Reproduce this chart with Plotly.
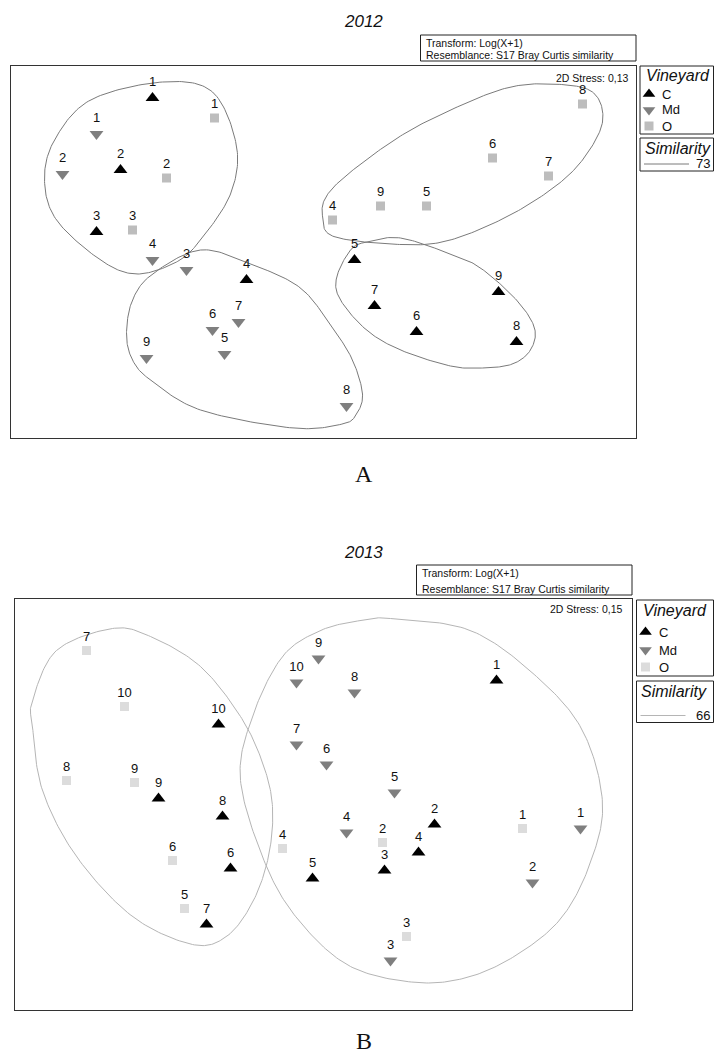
import numpy as np
import plotly.graph_objects as go

W, H = 715, 1055

# ---------------- 2012 : nMDS coordinates (axis 1, axis 2) ----------------
c12_lab = ["1", "2", "3", "4", "5", "6", "7", "8", "9"]
c12_x = [-0.85, -1.01, -1.13, -0.38, 0.16, 0.47, 0.26, 0.97, 0.88]
c12_y = [0.77, 0.41, 0.10, -0.14, -0.04, -0.40, -0.27, -0.45, -0.20]

md12_lab = ["1", "2", "3", "4", "5", "6", "7", "8", "9"]
md12_x = [-1.13, -1.30, -0.68, -0.85, -0.49, -0.55, -0.42, 0.12, -0.88]
md12_y = [0.59, 0.39, -0.09, -0.04, -0.51, -0.39, -0.35, -0.77, -0.53]

o12_lab = ["1", "2", "3", "4", "5", "6", "7", "8", "9"]
o12_x = [-0.54, -0.78, -0.95, 0.05, 0.52, 0.85, 1.13, 1.30, 0.29]
o12_y = [0.67, 0.37, 0.11, 0.16, 0.23, 0.47, 0.38, 0.74, 0.23]

# 73 % similarity contours (outline control points)
sim12_a_x = [-0.80, -0.55, -0.43, -0.46, -0.61, -0.73, -0.93, -1.11, -1.33, -1.39, -1.34, -1.16]
sim12_a_y = [0.85, 0.80, 0.53, 0.29, 0.06, -0.05, -0.11, -0.04, 0.16, 0.36, 0.56, 0.76]
sim12_b_x = [-0.61, -0.85, -0.95, -0.98, -0.95, -0.86, -0.61, -0.15, 0.10, 0.17, 0.20, 0.15, 0.05, -0.11, -0.36]
sim12_b_y = [0.01, -0.11, -0.24, -0.41, -0.54, -0.64, -0.79, -0.88, -0.86, -0.81, -0.71, -0.54, -0.38, -0.18, -0.06]
sim12_c_x = [0.00, 0.05, 0.34, 0.60, 0.89, 1.14, 1.30, 1.40, 1.35, 1.15, 0.92, 0.64, 0.39, 0.14, 0.02]
sim12_c_y = [0.18, 0.08, 0.04, 0.05, 0.16, 0.31, 0.46, 0.65, 0.80, 0.84, 0.82, 0.71, 0.58, 0.40, 0.28]
sim12_d_x = [0.39, 0.64, 0.79, 0.97, 1.06, 1.04, 0.95, 0.80, 0.64, 0.39, 0.22, 0.09, 0.07, 0.14, 0.22]
sim12_d_y = [0.07, -0.01, -0.08, -0.24, -0.38, -0.49, -0.56, -0.58, -0.57, -0.49, -0.39, -0.24, -0.13, 0.01, 0.05]

# ---------------- 2013 : nMDS coordinates ----------------
c13_lab = ["1", "2", "3", "4", "5", "6", "7", "8", "9", "10"]
c13_x = [0.86, 0.55, 0.30, 0.47, -0.06, -0.47, -0.59, -0.51, -0.83, -0.53]
c13_y = [0.62, -0.10, -0.33, -0.24, -0.37, -0.32, -0.60, -0.06, 0.03, 0.40]

md13_lab = ["1", "2", "3", "4", "5", "6", "7", "8", "9", "10"]
md13_x = [1.28, 1.04, 0.33, 0.11, 0.35, 0.01, -0.14, 0.15, -0.03, -0.14]
md13_y = [-0.12, -0.39, -0.78, -0.14, 0.06, 0.20, 0.30, 0.56, 0.73, 0.61]

o13_lab = ["1", "2", "3", "4", "5", "6", "7", "8", "9", "10"]
o13_x = [0.99, 0.29, 0.41, -0.21, -0.70, -0.76, -1.19, -1.29, -0.95, -1.00]
o13_y = [-0.12, -0.19, -0.66, -0.22, -0.52, -0.28, 0.77, 0.12, 0.11, 0.49]

# 66 % similarity contours
sim13_a_x = [-1.06, -1.34, -1.46, -1.46, -1.41, -1.24, -0.96, -0.66, -0.49, -0.36, -0.28, -0.26, -0.31, -0.42, -0.62, -0.87]
sim13_a_y = [0.88, 0.77, 0.52, 0.39, 0.07, -0.26, -0.56, -0.70, -0.66, -0.49, -0.26, -0.01, 0.21, 0.44, 0.69, 0.84]
sim13_b_x = [0.33, 0.73, 1.06, 1.29, 1.39, 1.33, 1.19, 0.98, 0.73, 0.46, 0.13, -0.12, -0.29, -0.42, -0.36, -0.21, -0.02, 0.18]
sim13_b_y = [0.93, 0.87, 0.64, 0.37, 0.01, -0.29, -0.56, -0.74, -0.86, -0.89, -0.81, -0.59, -0.31, 0.12, 0.44, 0.74, 0.87, 0.92]

C_COL = "#000000"
MD_COL = "#7f7f7f"
O12_COL = "#bdbdbd"
O13_COL = "#dcdcdc"
LINE12 = "#7a7a7a"
LINE13 = "#b5b5b5"
FONT = "Liberation Sans, Arial, sans-serif"


def closed_curve(xs, ys, n=24):
    """Smooth closed Catmull-Rom curve through the outline points."""
    p = np.column_stack([xs, ys]).astype(float)
    m = len(p)
    t = np.linspace(0, 1, n, endpoint=False)[:, None]
    segs = []
    for i in range(m):
        p0, p1, p2, p3 = p[(i - 1) % m], p[i], p[(i + 1) % m], p[(i + 2) % m]
        segs.append(0.5 * (2 * p1 + (-p0 + p2) * t
                           + (2 * p0 - 5 * p1 + 4 * p2 - p3) * t ** 2
                           + (-p0 + 3 * p1 - 3 * p2 + p3) * t ** 3))
    segs.append(p[:1])
    c = np.vstack(segs)
    return c[:, 0], c[:, 1]


fig = go.Figure()


def add_points(x, y, labels, symbol, color, size, xa, ya):
    fig.add_trace(go.Scatter(
        x=x, y=y, text=labels, mode="markers+text", textposition="top center",
        marker=dict(symbol=symbol, color=color, size=size, line=dict(width=0)),
        textfont=dict(family=FONT, size=13, color="#111111"),
        xaxis=xa, yaxis=ya, showlegend=False, hoverinfo="skip", cliponaxis=False))


def add_contour(xs, ys, color, xa, ya):
    cx, cy = closed_curve(xs, ys)
    fig.add_trace(go.Scatter(x=cx, y=cy, mode="lines", line=dict(color=color, width=1),
                             xaxis=xa, yaxis=ya, showlegend=False, hoverinfo="skip"))


# 2012 panel
for xs, ys in [(sim12_a_x, sim12_a_y), (sim12_b_x, sim12_b_y),
               (sim12_c_x, sim12_c_y), (sim12_d_x, sim12_d_y)]:
    add_contour(xs, ys, LINE12, "x", "y")
add_points(c12_x, c12_y, c12_lab, "triangle-up", C_COL, 12, "x", "y")
add_points(md12_x, md12_y, md12_lab, "triangle-down", MD_COL, 12, "x", "y")
add_points(o12_x, o12_y, o12_lab, "square", O12_COL, 9, "x", "y")

# 2013 panel
for xs, ys in [(sim13_a_x, sim13_a_y), (sim13_b_x, sim13_b_y)]:
    add_contour(xs, ys, LINE13, "x2", "y2")
add_points(c13_x, c13_y, c13_lab, "triangle-up", C_COL, 12, "x2", "y2")
add_points(md13_x, md13_y, md13_lab, "triangle-down", MD_COL, 12, "x2", "y2")
add_points(o13_x, o13_y, o13_lab, "square", O13_COL, 9, "x2", "y2")


def px(x):
    return x / W


def py(y):
    return 1 - y / H


def frame(domain_x, domain_y, rng_x, rng_y):
    ax = dict(domain=[px(domain_x[0]), px(domain_x[1])], range=rng_x, showgrid=False,
              zeroline=False, showticklabels=False, ticks="", showline=True, mirror=True,
              linecolor="#333333", linewidth=1, fixedrange=True)
    ay = dict(domain=[py(domain_y[1]), py(domain_y[0])], range=rng_y, showgrid=False,
              zeroline=False, showticklabels=False, ticks="", showline=True, mirror=True,
              linecolor="#333333", linewidth=1, fixedrange=True)
    return ax, ay


ax1, ay1 = frame((10.5, 636), (66, 438), [-1.56, 1.5675], [-0.93, 0.93])
ax2, ay2 = frame((15, 632), (599, 1010), [-1.5475, 1.5375], [-1.0275, 1.0275])
ay1["anchor"] = "x"
ax2["anchor"] = "y2"
ay2["anchor"] = "x2"

shapes = []
annotations = []


def box(x0, y0, x1, y1):
    shapes.append(dict(type="rect", xref="paper", yref="paper", x0=px(x0), x1=px(x1),
                       y0=py(y1), y1=py(y0), line=dict(color="#222222", width=1)))


def text(s, x, y, size, xanchor="center", italic=False, family=FONT, color="#111111"):
    annotations.append(dict(text=s, x=px(x), y=py(y), xref="paper", yref="paper",
                            xanchor=xanchor, yanchor="middle", showarrow=False,
                            font=dict(family=family, size=size, color=color,
                                      style="italic" if italic else "normal")))


def legend_key(x, y, symbol, color, size):
    fig.add_trace(go.Scatter(x=[x], y=[y], mode="markers",
                             marker=dict(symbol=symbol, color=color, size=size, line=dict(width=0)),
                             xaxis="x3", yaxis="y3", showlegend=False, hoverinfo="skip"))


def panel_decor(title, title_y, tb, stress, stress_xy, vin, row_off, sim, sim_val,
                line_col, o_col, letter, letter_y):
    text(title, 364, title_y, 17, italic=True)
    box(*tb)
    text("Transform: Log(X+1)", tb[0] + 3.5, tb[1] + 7.5, 10.5, xanchor="left")
    text("Resemblance: S17 Bray Curtis similarity", tb[0] + 3.5, tb[3] - 6, 10.5, xanchor="left")
    text(stress, stress_xy[0], stress_xy[1], 10.5, xanchor="right")
    # Vineyard key
    box(*vin)
    text("Vineyard", vin[0] + 4, vin[1] + 10, 16, xanchor="left", italic=True)
    rows = [("C", "triangle-up", C_COL, 11), ("Md", "triangle-down", MD_COL, 11), ("O", "square", o_col, 9)]
    for (lab, sym, col, sz), off in zip(rows, row_off):
        yy = vin[1] + off
        legend_key(vin[0] + 9, yy, sym, col, sz)
        text(lab, vin[0] + 20, yy, 13, xanchor="left")
    # Similarity key
    box(*sim)
    text("Similarity", sim[0] + 2.5, sim[1] + 10, 16, xanchor="left", italic=True)
    ly = sim[3] - 7
    shapes.append(dict(type="line", xref="paper", yref="paper", x0=px(sim[0] + 4), x1=px(sim[0] + 49),
                       y0=py(ly), y1=py(ly), line=dict(color=line_col, width=1)))
    text(sim_val, sim[2] - 2, ly - 0.5, 13, xanchor="right")
    text(letter, 364, letter_y, 24, family="Liberation Serif, Times New Roman, serif")


panel_decor("2012", 21.5, (420.5, 35, 636, 61), "2D Stress: 0,13", (631, 78),
            (640, 66, 713.5, 134), (28, 44, 60), (640, 138, 713.5, 171), "73",
            LINE12, O12_COL, "A", 473.5)
panel_decor("2013", 552, (416.5, 565, 632, 595), "2D Stress: 0,15", (625, 608.5),
            (636.5, 600, 713.5, 676), (32, 50, 67), (636.5, 681, 713.5, 722.5), "66",
            LINE13, O13_COL, "B", 1041)

fig.update_layout(
    width=W, height=H, margin=dict(l=0, r=0, t=0, b=0),
    paper_bgcolor="white", plot_bgcolor="rgba(0,0,0,0)",
    xaxis=ax1, yaxis=ay1, xaxis2=ax2, yaxis2=ay2,
    xaxis3=dict(domain=[0, 1], range=[0, W], visible=False, fixedrange=True, anchor="y3"),
    yaxis3=dict(domain=[0, 1], range=[H, 0], visible=False, fixedrange=True, anchor="x3"),
    shapes=shapes, annotations=annotations, showlegend=False,
)

fig.write_html("out.html")
